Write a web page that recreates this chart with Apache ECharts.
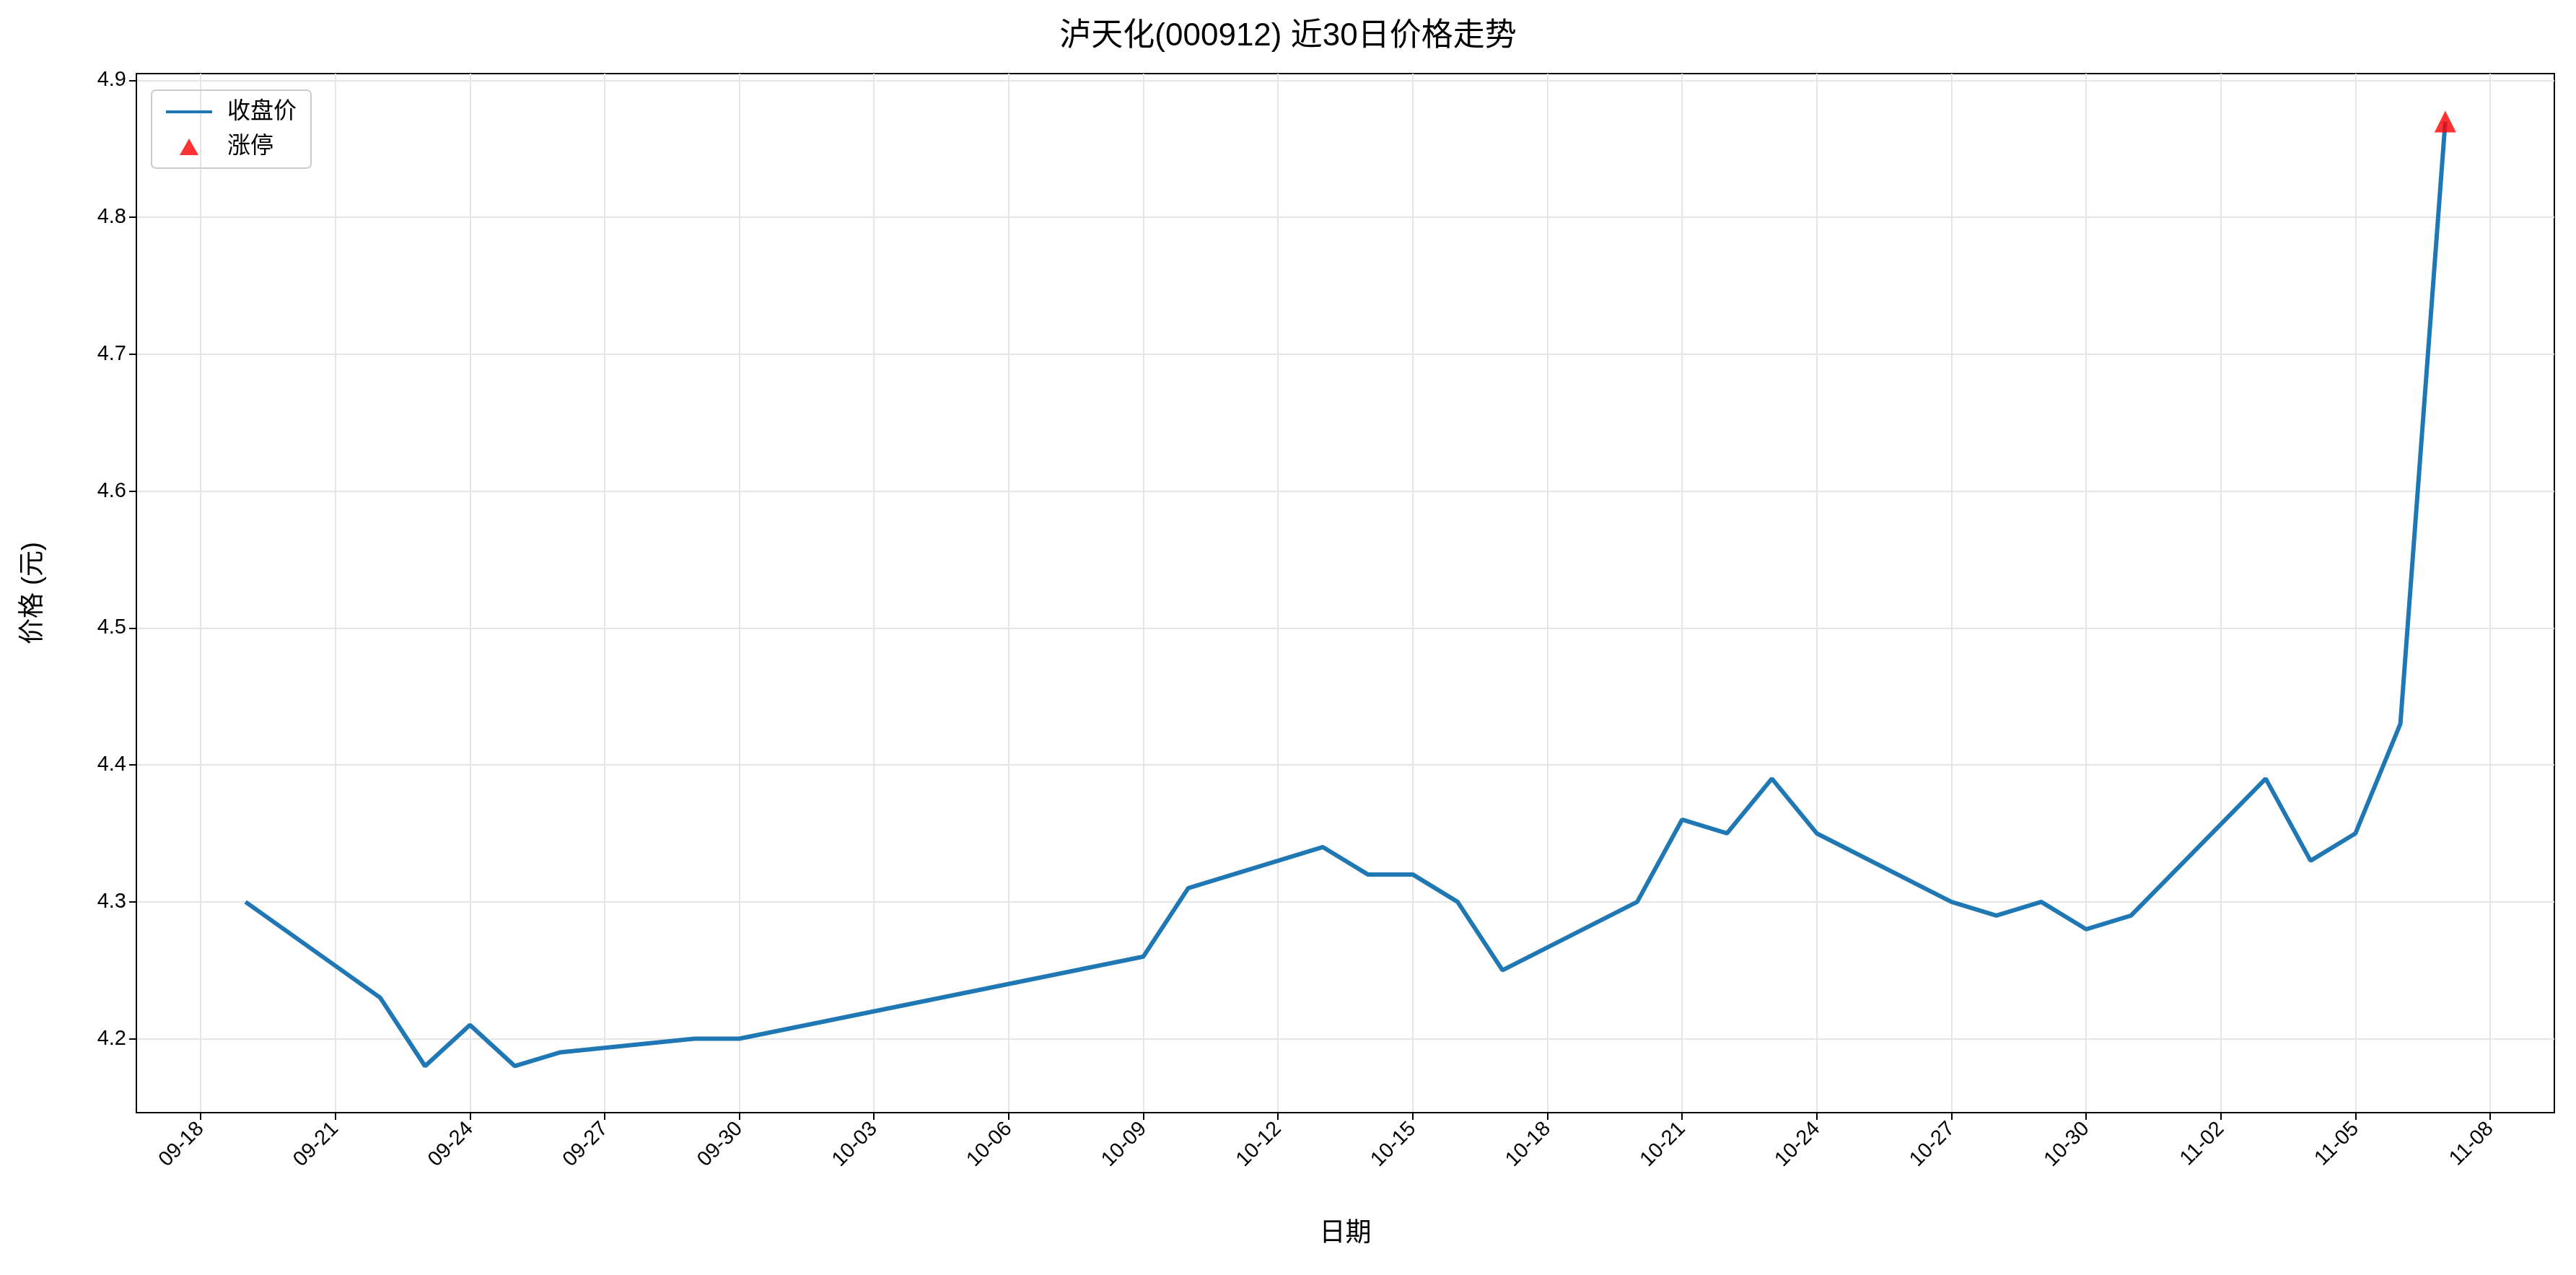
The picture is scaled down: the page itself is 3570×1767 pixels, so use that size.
<!DOCTYPE html><html><head><meta charset="utf-8"><script src="https://cdn.jsdelivr.net/npm/echarts@6/dist/echarts.min.js"></script>
<style>html,body{margin:0;background:#fff}#c{width:3570px;height:1767px}</style></head><body><div id="c"></div><script>
const dates=['09-19','09-22','09-23','09-24','09-25','09-26','09-29','09-30','10-09','10-10','10-13','10-14','10-15','10-16','10-17','10-20','10-21','10-22','10-23','10-24','10-27','10-28','10-29','10-30','10-31','11-03','11-04','11-05','11-06','11-07'];
const closes=[4.30,4.23,4.18,4.21,4.18,4.19,4.20,4.20,4.26,4.31,4.34,4.32,4.32,4.30,4.25,4.30,4.36,4.35,4.39,4.35,4.30,4.29,4.30,4.28,4.29,4.39,4.33,4.35,4.43,4.87];
const limitUp=[['11-07',4.87]];
const yTicks=[4.2,4.3,4.4,4.5,4.6,4.7,4.8,4.9];
const base=new Date(2025,8,18);
function dn(s){const [m,d]=s.split('-').map(Number);return Math.round((new Date(2025,m-1,d)-base)/864e5);}
function lab(n){const t=new Date(base.getTime()+n*864e5);return String(t.getMonth()+1).padStart(2,'0')+'-'+String(t.getDate()).padStart(2,'0');}
const xTicks=[];for(let i=0;i<=51;i+=3)xTicks.push(i);
const F='"Liberation Sans","Noto Sans CJK SC",sans-serif';
const ch=echarts.init(document.getElementById('c'));
ch.setOption({animation:false,
title:{text:'泸天化(000912) 近30日价格走势',left:'center',top:24,textStyle:{fontFamily:F,fontSize:44,fontWeight:'normal',color:'#000'}},
legend:{left:210,top:125,orient:'vertical',itemWidth:64,itemHeight:28,itemGap:16,padding:[14,20],borderColor:'#ccc',borderWidth:2,borderRadius:6,textStyle:{fontFamily:F,fontSize:32,color:'#000',padding:[0,0,0,16]},
data:[{name:'收盘价',icon:'path://M0,0M64,28M0,12H64V16H0Z',itemStyle:{color:'#1f77b4'}},{name:'涨停',icon:'path://M0,0M64,28M32,3L45,26H19Z',itemStyle:{color:'#ff0000'}}]},
grid:{left:189,right:30,top:102,bottom:225,show:true,borderColor:'#000',borderWidth:2,backgroundColor:'transparent'},
xAxis:{type:'value',min:-1.43,max:52.43,name:'日期',nameLocation:'middle',nameGap:150,nameTextStyle:{fontFamily:F,fontSize:36,color:'#000'},
axisLine:{onZero:false,lineStyle:{color:'#000',width:2}},axisTick:{customValues:xTicks,length:10,lineStyle:{color:'#000',width:2}},
axisLabel:{customValues:xTicks,formatter:v=>lab(v),rotate:45,fontFamily:F,fontSize:29,color:'#000',margin:18},
splitLine:{show:true,lineStyle:{color:'#e5e5e5',width:2}}},
yAxis:{type:'value',min:4.146,max:4.905,name:'价格 (元)',nameLocation:'middle',nameGap:125,nameTextStyle:{fontFamily:F,fontSize:36,color:'#000'},
axisLine:{show:true,onZero:false,lineStyle:{color:'#000',width:2}},axisTick:{show:true,customValues:yTicks,length:10,lineStyle:{color:'#000',width:2}},
axisLabel:{customValues:yTicks,formatter:v=>v.toFixed(1),fontFamily:F,fontSize:29,color:'#000',margin:14},
splitLine:{show:true,lineStyle:{color:'#e5e5e5',width:2}}},
series:[{name:'收盘价',type:'line',data:dates.map((d,i)=>[dn(d),closes[i]]),showSymbol:false,lineStyle:{color:'#1f77b4',width:6},itemStyle:{color:'#1f77b4'}},
{name:'涨停',type:'scatter',symbol:'triangle',symbolSize:30,data:limitUp.map(p=>[dn(p[0]),p[1]]),itemStyle:{color:'#ff0000'},z:5}]
});
</script></body></html>
